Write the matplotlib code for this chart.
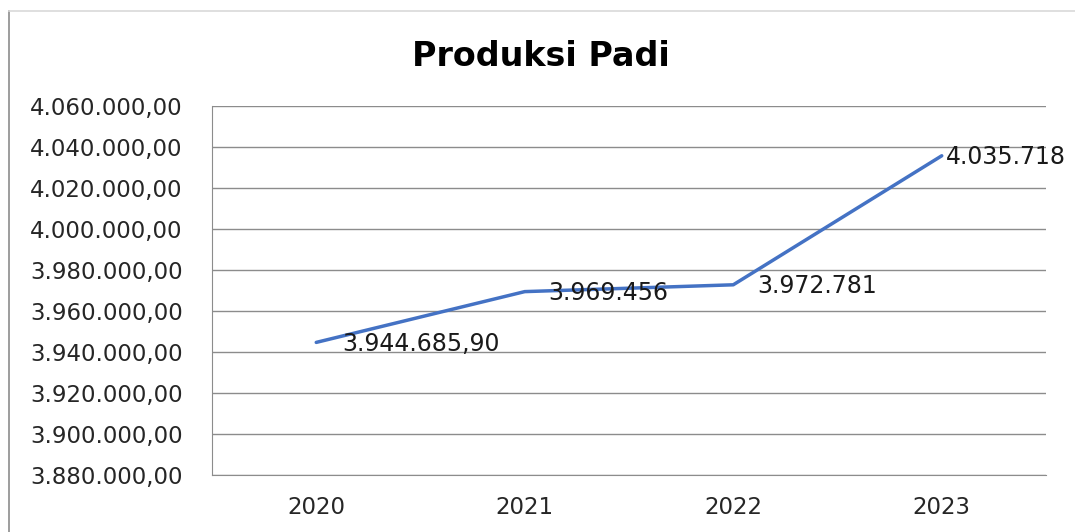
import matplotlib.pyplot as plt
from matplotlib.lines import Line2D
from matplotlib.ticker import FuncFormatter

years = ["2020", "2021", "2022", "2023"]
produksi = [3944685.90, 3969456, 3972781, 4035718]
label_text = ["3.944.685,90", "3.969.456", "3.972.781", "4.035.718"]
y_ticks = list(range(3880000, 4060001, 20000))


def id_format(v, pos=None):
    s = f"{v:,.2f}"
    return s.replace(",", "X").replace(".", ",").replace("X", ".")


plt.rcParams['font.family'] = ['DejaVu Sans']

W, H = 1075, 532
fig = plt.figure(figsize=(W / 100, H / 100), dpi=100)
ax = fig.add_axes([212 / W, 1 - 475 / H, (1046 - 212) / W, (475 - 106) / H])

x = list(range(len(years)))
ax.plot(x, produksi, color="#4472C4", linewidth=2.5, solid_capstyle="round")

# excel puts the labels a bit off to the right of each point
label_dx = [19, 17, 17, 3]
for xi, yi, t, dx in zip(x, produksi, label_text, label_dx):
    ax.annotate(t, (xi, yi), xytext=(dx, -1), textcoords="offset points",
                ha="left", va="center", fontsize=17, color="#1a1a1a")

ax.set_xlim(-0.5, 3.5)
ax.set_ylim(3880000, 4060000)
ax.set_yticks(y_ticks)
ax.yaxis.set_major_formatter(FuncFormatter(id_format))
ax.set_xticks(x)
ax.set_xticklabels(years)
ax.tick_params(axis="both", length=0, labelsize=16.5, colors="#262626")
ax.tick_params(axis="y", pad=21)
ax.tick_params(axis="x", pad=15)
ax.grid(axis="y", color="#8c8c8c", linewidth=1)
ax.set_axisbelow(True)
for side in ["top", "right"]:
    ax.spines[side].set_visible(False)
for side in ["left", "bottom"]:
    ax.spines[side].set_color("#8c8c8c")

fig.text(541 / W, 1 - 56 / H, "Produksi Padi", ha="center", va="center",
         fontsize=24, fontweight="bold", color="#000000")

# chart frame
fig.add_artist(Line2D([9 / W, 9 / W], [0, 1 - 11 / H], color="#8c8c8c", linewidth=1.2))
fig.add_artist(Line2D([9 / W, 1], [1 - 11 / H, 1 - 11 / H], color="#d9d9d9", linewidth=1.2))

fig.savefig("out.png", dpi=100)
